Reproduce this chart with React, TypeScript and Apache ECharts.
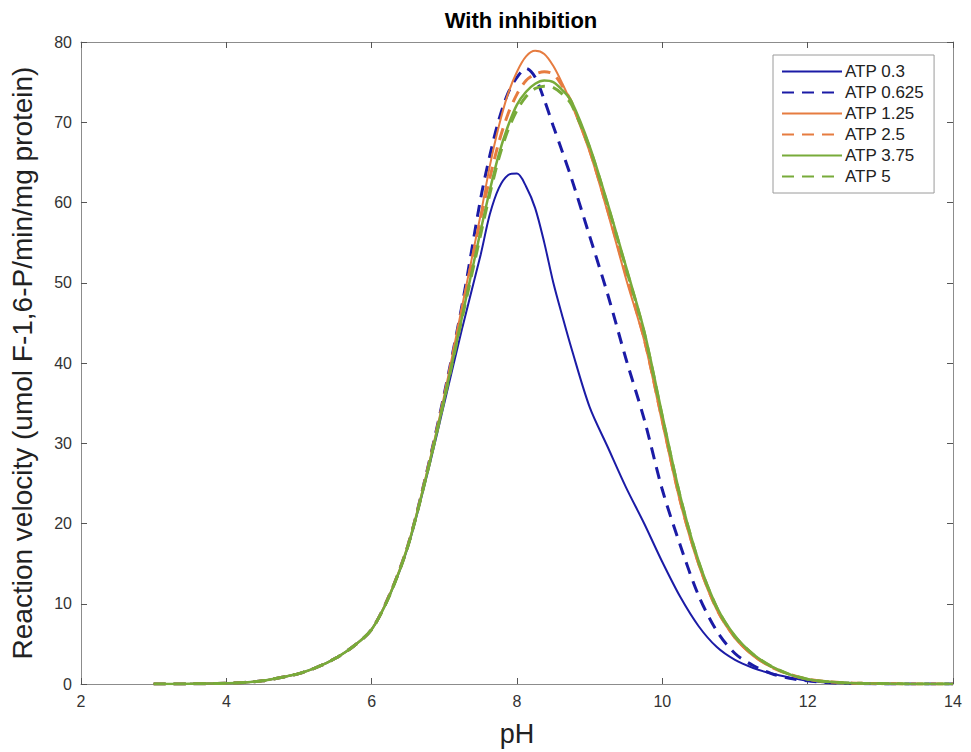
import React, { useEffect, useRef } from "react";
import * as echarts from "echarts";

const pH = [3, 3.25, 3.5, 3.75, 4, 4.25, 4.5, 4.75, 5, 5.25, 5.5, 5.75, 6, 6.25, 6.5, 6.75, 7, 7.25, 7.5, 7.625, 7.75, 7.875, 8, 8.125, 8.25, 8.375, 8.5, 8.625, 8.75, 9, 9.25, 9.5, 9.75, 10, 10.25, 10.5, 10.75, 11, 11.25, 11.5, 11.75, 12, 12.25, 12.5, 12.75, 13, 13.5, 14];

const atp03 = [0, 0, 0.02, 0.05, 0.1, 0.2, 0.4, 0.8, 1.3, 2.1, 3.2, 4.7, 6.8, 11.1, 17.1, 25.6, 35, 44.5, 53.5, 58.5, 61.8, 63.4, 63.6, 62, 59.3, 55, 50, 45.8, 41.8, 34.5, 29.5, 24.5, 20, 15.2, 10.8, 7.2, 4.6, 3, 2, 1.3, 0.8, 0.4, 0.2, 0.1, 0.05, 0, 0, 0];
const atp0625 = [0, 0, 0.02, 0.05, 0.1, 0.2, 0.4, 0.8, 1.3, 2.1, 3.2, 4.7, 6.8, 11.2, 17.3, 26.1, 36.2, 47.5, 60.5, 65.8, 70.3, 73.6, 75.6, 76.7, 75.6, 72.8, 69.5, 66.3, 63, 55.8, 48.5, 40.5, 33, 24.2, 17.2, 11, 6.6, 3.8, 2.3, 1.3, 0.7, 0.4, 0.2, 0.1, 0.05, 0, 0, 0];
const atp125 = [0, 0, 0.02, 0.05, 0.1, 0.2, 0.4, 0.8, 1.3, 2.1, 3.2, 4.7, 6.8, 11.2, 17.3, 26, 36, 47.3, 58.5, 64.5, 69.5, 73.5, 76.3, 78.2, 78.9, 78.5, 77, 74.8, 72.3, 66.3, 58.7, 50.5, 42.8, 32.5, 22.5, 14.8, 9.2, 5.7, 3.5, 2.1, 1.2, 0.6, 0.3, 0.15, 0.08, 0.05, 0, 0];
const atp25 = [0, 0, 0.02, 0.05, 0.1, 0.2, 0.4, 0.8, 1.3, 2.1, 3.2, 4.7, 6.8, 11.2, 17.3, 26, 35.9, 47, 58, 63, 67.5, 71, 73.5, 75.2, 76, 76.3, 76, 74.5, 72.5, 66.5, 59, 51, 43, 32.8, 22.7, 15, 9.3, 5.8, 3.6, 2.1, 1.2, 0.6, 0.3, 0.15, 0.08, 0.05, 0, 0];
const atp375 = [0, 0, 0.02, 0.05, 0.1, 0.2, 0.4, 0.8, 1.3, 2.1, 3.2, 4.7, 6.8, 11.1, 17.2, 25.8, 35.5, 46, 56.5, 61.5, 66, 69.5, 72.2, 73.8, 74.8, 75.2, 75, 74, 72.6, 67, 59.8, 52, 44, 33.5, 23.3, 15.3, 9.6, 6, 3.7, 2.2, 1.2, 0.6, 0.3, 0.15, 0.08, 0.05, 0, 0];
const atp5 = [0, 0, 0.02, 0.05, 0.1, 0.2, 0.4, 0.8, 1.3, 2.1, 3.2, 4.7, 6.8, 11.1, 17.2, 25.8, 35.5, 45.8, 56, 61, 65.5, 69, 71.5, 73.2, 74.2, 74.5, 74.3, 73.5, 72.2, 66.8, 59.6, 51.8, 43.8, 33.3, 23.2, 15.2, 9.5, 5.9, 3.7, 2.2, 1.2, 0.6, 0.3, 0.15, 0.08, 0.05, 0, 0];

const seriesNames = ["ATP 0.3", "ATP 0.625", "ATP 1.25", "ATP 2.5", "ATP 3.75", "ATP 5"];
const seriesValues = [atp03, atp0625, atp125, atp25, atp375, atp5];
const seriesColors = ["#1B1BA6", "#1B1BA6", "#E67C40", "#E67C40", "#78AB3A", "#78AB3A"];
const seriesDashed = [false, true, false, true, false, true];
const seriesWidths = [2, 3, 2, 3, 2.5, 3];

const xTicks = [2, 4, 6, 8, 10, 12, 14];
const yTicks = [0, 10, 20, 30, 40, 50, 60, 70, 80];

export default function App() {
  const ref = useRef<HTMLDivElement>(null);
  useEffect(() => {
    if (!ref.current) return;
    const chart = echarts.init(ref.current, null, { renderer: "svg" });
    const font = "'Liberation Sans', Arial, Helvetica, sans-serif";
    const axisColor = "#8c8c8c";
    const baseX = {
      type: "value",
      min: xTicks[0],
      max: xTicks[xTicks.length - 1],
      interval: 2,
      splitLine: { show: false },
      axisLine: { show: true, onZero: false, lineStyle: { color: axisColor, width: 1 } },
      axisTick: { show: true, inside: true, length: 6, lineStyle: { color: "#555" } },
    };
    const baseY = {
      type: "value",
      min: yTicks[0],
      max: yTicks[yTicks.length - 1],
      interval: 10,
      splitLine: { show: false },
      axisLine: { show: true, onZero: false, lineStyle: { color: axisColor, width: 1 } },
      axisTick: { show: true, inside: true, length: 6, lineStyle: { color: "#555" } },
    };
    chart.setOption({
      animation: false,
      backgroundColor: "#fff",
      title: {
        text: "With inhibition",
        left: 516,
        textAlign: "center",
        top: 4,
        textStyle: { fontFamily: font, fontSize: 22, fontWeight: "bold", color: "#000" },
      },
      grid: { left: 79, right: 18, top: 42, bottom: 67, containLabel: false },
      legend: {
        orient: "vertical",
        left: 773,
        top: 55,
        padding: [8, 10, 8, 8],
        itemWidth: 60,
        itemHeight: 14,
        itemGap: 4,
        backgroundColor: "#fff",
        borderColor: "#9a9a9a",
        borderWidth: 1,
        borderRadius: 0,
        itemStyle: { opacity: 0 },
        data: seriesNames,
        textStyle: { fontFamily: font, fontSize: 17, color: "#222", padding: [0, 0, 0, -2] },
      },
      xAxis: [
        {
          ...baseX,
          position: "bottom",
          name: "pH",
          nameLocation: "middle",
          nameGap: 36,
          nameTextStyle: { fontFamily: font, fontSize: 27, color: "#222" },
          axisLabel: { fontFamily: font, fontSize: 16, color: "#333", margin: 9 },
        },
        { ...baseX, position: "top", axisLabel: { show: false } },
      ],
      yAxis: [
        {
          ...baseY,
          position: "left",
          name: "Reaction velocity (umol F-1,6-P/min/mg protein)",
          nameLocation: "middle",
          nameGap: 45,
          nameTextStyle: { fontFamily: font, fontSize: 28, color: "#222" },
          axisLabel: { fontFamily: font, fontSize: 16, color: "#333", margin: 9 },
        },
        { ...baseY, position: "right", axisLabel: { show: false } },
      ],
      series: seriesNames.map((name, i) => ({
        name,
        type: "line",
        xAxisIndex: 0,
        yAxisIndex: 0,
        symbol: "none",
        smooth: 0.3,
        data: pH.map((x, j) => [x, seriesValues[i][j]]),
        color: seriesColors[i],
        lineStyle: {
          color: seriesColors[i],
          width: seriesWidths[i],
          type: seriesDashed[i] ? [12, 8] : "solid",
        },
      })),
    });
    return () => chart.dispose();
  }, []);
  return (
    <div
      ref={ref}
      style={{ position: "fixed", left: 0, top: 0, width: 971, height: 752 }}
    />
  );
}
